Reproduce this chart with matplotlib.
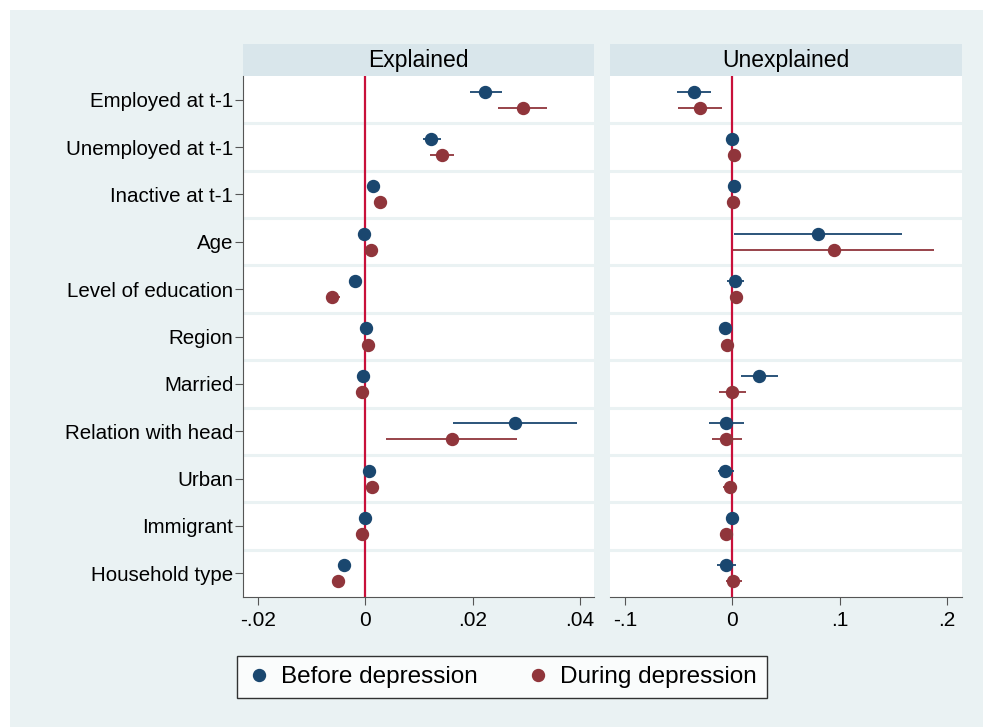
import matplotlib

matplotlib.use("Agg")
import matplotlib.pyplot as plt
import numpy as np
from matplotlib.lines import Line2D
from matplotlib.patches import Rectangle

plt.rcParams["font.family"] = ["Liberation Sans", "DejaVu Sans"]

categories = ["Employed at t-1", "Unemployed at t-1", "Inactive at t-1", "Age",
              "Level of education", "Region", "Married", "Relation with head",
              "Urban", "Immigrant", "Household type"]

# Explained panel: point, lower CI, upper CI
expl_before = [0.0223, 0.0123, 0.0014, -0.0003, -0.0019, 0.0001, -0.0004, 0.0278, 0.0006, -0.0001, -0.0039]
expl_before_lo = [0.0195, 0.0107, 0.0011, -0.0006, -0.0022, -0.0002, -0.0007, 0.0163, 0.0003, -0.0004, -0.0043]
expl_before_hi = [0.0254, 0.0141, 0.0017, 0.0000, -0.0016, 0.0004, -0.0001, 0.0395, 0.0009, 0.0002, -0.0035]
expl_during = [0.0293, 0.0142, 0.0028, 0.0010, -0.0062, 0.0004, -0.0007, 0.0161, 0.0012, -0.0007, -0.0051]
expl_during_lo = [0.0247, 0.0120, 0.0025, 0.0007, -0.0074, 0.0001, -0.0010, 0.0039, 0.0009, -0.0010, -0.0055]
expl_during_hi = [0.0338, 0.0165, 0.0031, 0.0013, -0.0048, 0.0007, -0.0004, 0.0282, 0.0015, -0.0004, -0.0047]

# Unexplained panel
unex_before = [-0.0357, 0.0000, 0.0015, 0.0797, 0.0022, -0.0065, 0.0248, -0.0056, -0.0068, 0.0000, -0.0059]
unex_before_lo = [-0.0515, -0.0020, -0.0005, 0.0019, -0.0047, -0.0085, 0.0081, -0.0214, -0.0137, -0.0020, -0.0146]
unex_before_hi = [-0.0195, 0.0020, 0.0035, 0.1580, 0.0105, -0.0045, 0.0425, 0.0109, 0.0016, 0.0020, 0.0034]
unex_during = [-0.0300, 0.0015, 0.0010, 0.0943, 0.0034, -0.0047, 0.0000, -0.0056, -0.0019, -0.0062, 0.0006]
unex_during_lo = [-0.0509, -0.0005, -0.0010, 0.0003, 0.0000, -0.0067, -0.0127, -0.0190, -0.0087, -0.0082, -0.0062]
unex_during_hi = [-0.0096, 0.0035, 0.0030, 0.1880, 0.0068, -0.0027, 0.0130, 0.0087, 0.0047, -0.0042, 0.0090]

panels = [
    ("Explained", (expl_before, expl_before_lo, expl_before_hi),
     (expl_during, expl_during_lo, expl_during_hi),
     (-0.0228, 0.0426), [-0.02, 0, 0.02, 0.04], ["-.02", "0", ".02", ".04"]),
    ("Unexplained", (unex_before, unex_before_lo, unex_before_hi),
     (unex_during, unex_during_lo, unex_during_hi),
     (-0.114, 0.214), [-0.1, 0, 0.1, 0.2], ["-.1", "0", ".1", ".2"]),
]

BLUE = "#1a476f"
RED = "#90353b"
ZERO = "#c8103a"
BG = "#eaf2f3"
STRIP = "#d9e6eb"
W, H = 983, 727

fig = plt.figure(figsize=(W / 100, H / 100), dpi=100)
fig.patches.append(Rectangle((10 / W, 0), 1 - 10 / W, 1 - 10 / H,
                             transform=fig.transFigure, facecolor=BG,
                             edgecolor="none", zorder=-10))


def px_axes(x0, y0, x1, y1, **kw):
    return fig.add_axes([x0 / W, 1 - y1 / H, (x1 - x0) / W, (y1 - y0) / H], **kw)


ypos = np.arange(1, len(categories) + 1)
off = 0.17
for i, (title, before, during, xlim, ticks, tlabels) in enumerate(panels):
    x0 = 243 if i == 0 else 610
    x1 = 594 if i == 0 else 962
    strip = px_axes(x0, 44, x1, 76)
    strip.set_facecolor(STRIP)
    strip.set_xticks([]); strip.set_yticks([])
    for s in strip.spines.values():
        s.set_visible(False)
    strip.text(0.5, 0.5, title, ha="center", va="center", fontsize=16.5,
               transform=strip.transAxes)

    ax = px_axes(x0, 76, x1, 597)
    ax.set_facecolor("white")
    for y in np.arange(1.5, len(categories), 1.0):
        ax.axhline(y, color=BG, lw=2.2, zorder=1)
    ax.axvline(0, color=ZERO, lw=1.6, zorder=2)
    for (pt, lo, hi), color, dy in [(before, BLUE, -off), (during, RED, off)]:
        pt = np.array(pt); lo = np.array(lo); hi = np.array(hi)
        ax.hlines(ypos + dy, lo, hi, color=color, lw=1.3, zorder=3)
        ax.plot(pt, ypos + dy, "o", color=color, ms=8.6, mec=color, zorder=4,
                linestyle="none")
    ax.set_ylim(len(categories) + 0.5, 0.5)
    ax.set_xlim(*xlim)
    ax.set_xticks(ticks)
    ax.set_xticklabels(tlabels, fontsize=15)
    ax.spines["top"].set_visible(False)
    ax.spines["right"].set_visible(False)
    ax.spines["bottom"].set_color("#555555")
    ax.tick_params(axis="x", length=6, color="#555555", pad=4)
    if i == 0:
        ax.set_yticks(ypos)
        ax.set_yticklabels(categories, fontsize=14.8)
        ax.spines["left"].set_color("#555555")
        ax.tick_params(axis="y", length=6, color="#555555", pad=1)
    else:
        ax.set_yticks([])
        ax.spines["left"].set_visible(False)

handles = [Line2D([], [], marker="o", color=BLUE, ls="none", ms=8.6),
           Line2D([], [], marker="o", color=RED, ls="none", ms=8.6)]
leg = fig.legend(handles, ["Before depression", "During depression"], ncol=2,
                 loc="center", bbox_to_anchor=(502 / W, 1 - 677 / H),
                 fontsize=17.5, frameon=True, fancybox=False, edgecolor="black",
                 handletextpad=0.4, columnspacing=2.0, borderpad=0.4,
                 handlelength=1.0)
leg.get_frame().set_linewidth(1.0)

fig.savefig("out.png", dpi=100)
